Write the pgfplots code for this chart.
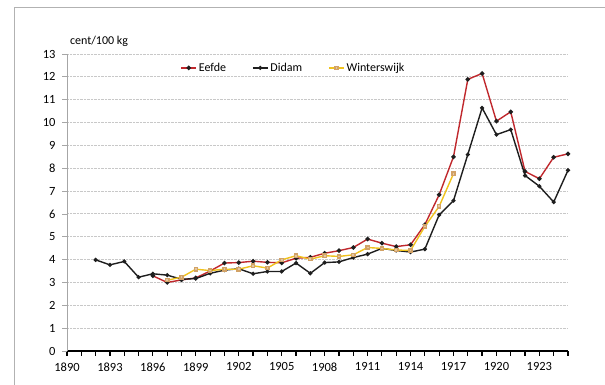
\documentclass[border=0pt]{standalone}
\usepackage{pgfplots}
\pgfplotsset{compat=1.18}
\usepackage{pgfplotstable}
\usepackage{fontspec}
\setmainfont{Carlito}
\definecolor{eefde}{HTML}{C0282D}
\definecolor{didam}{HTML}{1E1E1E}
\definecolor{wline}{HTML}{F0C21E}
\definecolor{wmark}{HTML}{D2A266}
\definecolor{gridc}{HTML}{C8C8C8}

\pgfplotstableread{
year val
1896 3.29
1897 3.00
1898 3.11
1899 3.20
1900 3.50
1901 3.85
1902 3.87
1903 3.93
1904 3.88
1905 3.86
1906 4.06
1907 4.10
1908 4.28
1909 4.39
1910 4.53
1911 4.90
1912 4.72
1913 4.57
1914 4.65
1915 5.53
1916 6.84
1917 8.50
1918 11.89
1919 12.15
1920 10.06
1921 10.47
1922 7.86
1923 7.54
1924 8.48
1925 8.63
}\eefde

\pgfplotstableread{
year val
1892 3.99
1893 3.77
1894 3.92
1895 3.23
1896 3.38
1897 3.32
1898 3.14
1899 3.17
1900 3.40
1901 3.54
1902 3.60
1903 3.38
1904 3.48
1905 3.48
1906 3.85
1907 3.40
1908 3.87
1909 3.90
1910 4.09
1911 4.24
1912 4.49
1913 4.40
1914 4.33
1915 4.46
1916 5.96
1917 6.58
1918 8.60
1919 10.64
1920 9.47
1921 9.69
1922 7.68
1923 7.21
1924 6.52
1925 7.91
}\didam

\pgfplotstableread{
year val
1897 3.10
1898 3.23
1899 3.58
1900 3.52
1901 3.58
1902 3.58
1903 3.73
1904 3.63
1905 3.99
1906 4.17
1907 4.02
1908 4.17
1909 4.14
1910 4.21
1911 4.53
1912 4.49
1913 4.42
1914 4.40
1915 5.45
1916 6.33
1917 7.76
}\winter

\begin{document}
\fontsize{13}{15}\selectfont
\begin{tikzpicture}[x=1pt,y=1pt]
\useasboundingbox (-67,-34) rectangle (538,351);
\draw[gray!60, line width=0.8pt] (-53,-34) -- (-53,344) -- (538,344);
\begin{axis}[
  at={(0,0)}, anchor=origin,
  scale only axis, width=501pt, height=297pt,
  xmin=1890, xmax=1925, ymin=0, ymax=13,
  axis lines*=left,
  axis line style={gray!70, line width=0.8pt},
  x axis line style={black, line width=1.4pt, -},
  y axis line style={-},
  xtick={1890,1893,...,1923},
  minor xtick={1890,...,1925},
  ytick={0,1,...,13},
  tick align=outside,
  major tick length=5pt, minor tick length=5pt,
  x tick style={black, line width=1.2pt},
  y tick style={gray!70, line width=0.8pt},
  ymajorgrids,
  grid style={gridc, densely dotted, line width=0.9pt},
  /pgf/number format/assume math mode=true,
  xticklabel style={/pgf/number format/1000 sep={}, font=\fontsize{12.5}{15}\selectfont, yshift=-2pt},
  yticklabel style={font=\fontsize{12.5}{15}\selectfont, xshift=-2pt},
  xticklabel={\pgfmathprintnumber[1000 sep={},fixed]{\tick}},
  legend style={at={(0.452,0.953)}, anchor=center, draw=none, fill=none,
    font=\fontsize{12}{14}\selectfont, inner sep=0pt,
    nodes={inner xsep=2pt, inner ysep=1pt},
    /tikz/every even column/.append style={column sep=24pt}},
  legend columns=3,
  legend image code/.code={\draw[mark repeat=2,mark phase=2] plot coordinates {(0pt,0pt) (7.5pt,0pt) (15pt,0pt)};},
  clip=false,
]
\addplot[eefde, line width=1.4pt, mark=*, mark size=1.5pt, mark options={fill=didam, draw=didam}] table[x=year,y=val] {\eefde};
\addlegendentry{Eefde}
\addplot[didam, line width=1.4pt, mark=*, mark size=1.3pt] table[x=year,y=val] {\didam};
\addlegendentry{Didam}
\addplot[wline, line width=1.4pt, mark=square*, mark size=1.6pt, mark options={fill=wmark!60, draw=wmark}] table[x=year,y=val] {\winter};
\addlegendentry{Winterswijk}
\node[anchor=west, inner sep=0pt, font=\fontsize{12}{14}\selectfont] at (axis cs:1890.2,13.55) {cent/100 kg};
\end{axis}
\end{tikzpicture}
\end{document}
